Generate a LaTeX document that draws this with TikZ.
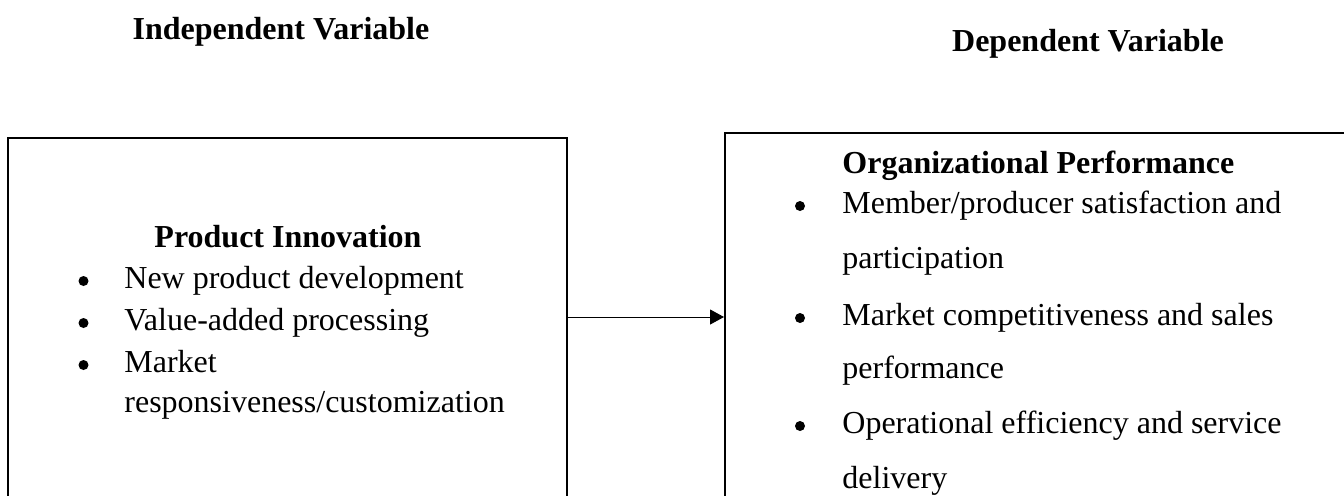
\documentclass[tikz,border=0pt]{standalone}
\usepackage{fontspec}
\setmainfont{Liberation Serif}
\usetikzlibrary{positioning}
\usetikzlibrary{arrows.meta}
\tikzstyle{varbox}=[draw,line width=1pt,inner sep=0pt]
\tikzstyle{heading}=[font=\fontsize{16}{19}\selectfont\bfseries,inner sep=0pt,anchor=base]
\tikzstyle{itemtext}=[font=\fontsize{16}{19}\selectfont,inner sep=0pt,anchor=base west]
\tikzstyle{dot}=[circle,fill=black,inner sep=0pt,minimum size=5pt]
\tikzstyle{edge}=[draw,line width=0.5pt,-{Triangle[length=7pt,width=7.5pt]}]

\begin{document}
\begin{tikzpicture}[x=0.5pt,y=-0.5pt]
    \useasboundingbox (0,0) rectangle (1344,495);
    \clip (0,0) rectangle (1344,495);
    % Headings over the two sides
    \node[heading] (indep) at (281,39) {Independent Variable};
    \node[heading] (dep) at (1088,51) {Dependent Variable};

    % The two boxes, they run past the page edge
    \node[varbox,minimum width=279.5pt,minimum height=190pt] (prod) at (287.5,328) {};
    \node[varbox,minimum width=310.5pt,minimum height=195pt] (perf) at (1035.5,328) {};
    \coordinate (mid) at (0,317);

    % Left box: title and items
    \node[heading] (prodtitle) at (288,247) {Product Innovation};
    \foreach \y/\name/\label in {288/p1/New product development, 330/p2/Value-added processing, 372/p3/Market}
    {
        \node[dot] (\name dot) at (83.5,\y-7) {};
        \node[itemtext] (\name) at (124,\y) {\label};
    }
    \node[itemtext] (p3b) at (124,412) {responsiveness/customization};

    % Right box: title and items, two lines each
    \node[itemtext,font=\fontsize{16}{19}\selectfont\bfseries] (perftitle) at (842,173) {Organizational Performance};
    \foreach \y/\yy/\name/\first/\second in {213/268/o1/{Member/producer satisfaction and}/participation, 325/378/o2/Market competitiveness and sales/performance, 433/488/o3/Operational efficiency and service/delivery}
    {
        \node[dot] (\name dot) at (800,\y-7) {};
        \node[itemtext] (\name) at (842,\y) {\first};
        \node[itemtext] (\name b) at (842,\yy) {\second};
    }

    % Connect the boxes
    \path[edge] (prod.east |- mid) -- (perf.west |- mid);
\end{tikzpicture}
\end{document}
